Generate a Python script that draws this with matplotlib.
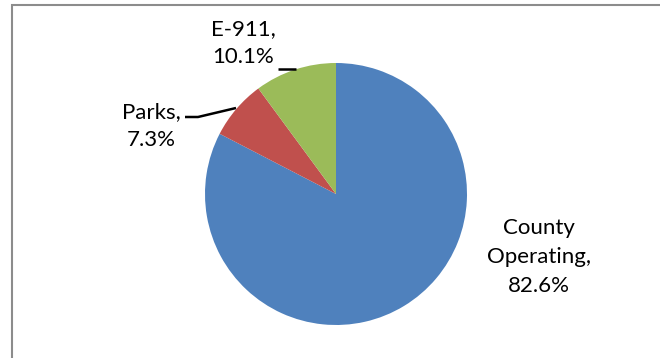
import matplotlib
matplotlib.use("Agg")
import matplotlib.pyplot as plt
from matplotlib.patches import Rectangle

# data
categories = ["County Operating", "Parks", "E-911"]
shares = [82.6, 7.3, 10.1]
label_text = ["County\nOperating,\n82.6%", "Parks,\n7.3%", "E-911,\n10.1%"]
colors = ["#4F81BD", "#C0504D", "#9BBB59"]

W, H = 660, 358
fig = plt.figure(figsize=(W / 100, H / 100), dpi=100)
ax = fig.add_axes([0, 0, 1, 1])

def py(y):
    # pixel row (from top) -> data y
    return H - y

ax.pie(shares, colors=colors, startangle=90, counterclock=False,
       center=(336, py(194)), radius=131, frame=True,
       wedgeprops=dict(linewidth=0))
ax.set_xlim(0, W)
ax.set_ylim(0, H)
ax.set_aspect("equal")
ax.axis("off")

font = dict(family=["Lato", "DejaVu Sans"], fontsize=16, color="black",
            linespacing=1.55, ha="center", va="center")
ax.text(539, py(257), label_text[0], **font)
ax.text(151, py(126), label_text[1], **font)
ax.text(243, py(43), label_text[2], **font)

# leader lines
ax.plot([185, 198, 236], [py(117), py(117), py(108)], color="black", lw=1.8,
        solid_capstyle="butt")
ax.plot([278, 296], [py(69), py(69)], color="black", lw=1.8,
        solid_capstyle="butt")

# chart border
fig.patches.append(Rectangle((12 / W, -0.2), 1.2, 1.2 - 5 / H,
                             transform=fig.transFigure, fill=False,
                             edgecolor="#8C8C8C", lw=1.5))

fig.savefig("out.png", dpi=100, facecolor="white")
